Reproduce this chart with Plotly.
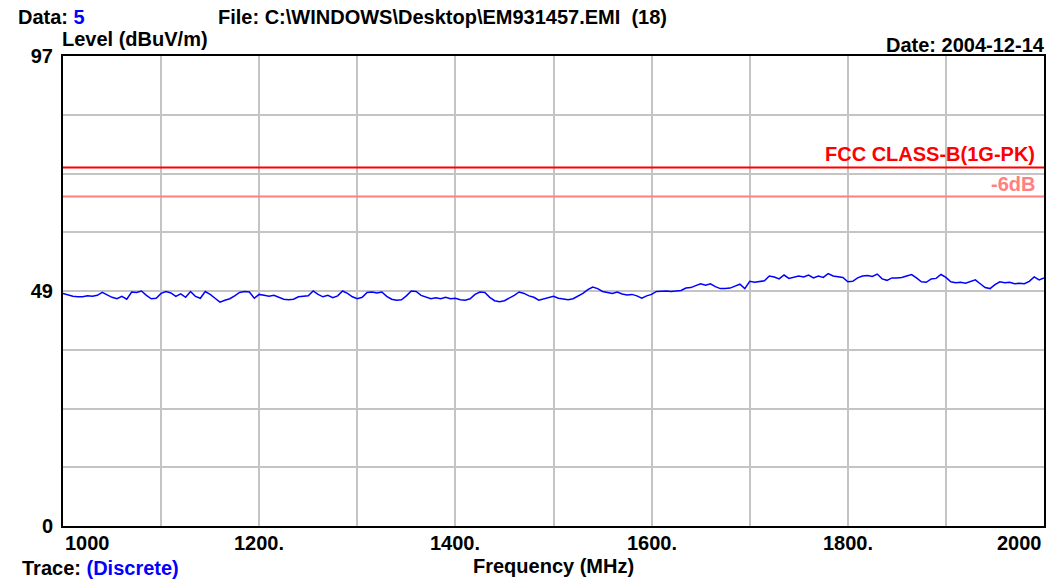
import plotly.graph_objects as go

# ---- data ----
freq_mhz = list(range(1000, 2001, 5))
level_dbuv = [
    48.0, 47.7, 47.4, 47.3, 47.3, 47.5, 47.4, 47.6, 48.2, 47.7,
    47.2, 46.9, 47.4, 46.8, 48.3, 48.2, 48.5, 47.6, 46.9, 47.0,
    48.0, 48.4, 48.1, 47.4, 47.9, 47.2, 48.4, 47.4, 47.0, 48.4,
    47.8, 47.0, 46.2, 46.6, 46.9, 47.5, 48.2, 48.4, 48.3, 47.0,
    47.8, 47.6, 47.4, 47.6, 47.2, 46.8, 46.7, 46.8, 47.3, 47.4,
    47.5,
    48.5, 47.8, 47.3, 47.6, 47.1, 47.5, 48.5, 48.0, 47.3, 46.9,
    47.2, 48.2, 48.3, 48.1, 48.3, 47.4, 46.8, 46.6, 46.7, 47.5,
    48.5, 48.4, 47.6, 47.2, 46.9, 47.1, 46.9, 47.2, 46.9, 47.0,
    46.7, 46.6, 46.9, 47.8, 48.3, 48.2, 47.2, 46.5, 46.3, 46.5,
    47.0, 47.6, 48.3, 48.0, 47.5, 47.2, 46.6, 46.9, 47.1, 47.4,
    47.0, 46.8, 46.7, 46.9, 47.4, 48.0, 48.8, 49.3, 49.0, 48.4,
    48.2, 48.0, 48.3, 47.9, 47.7, 47.8, 47.5, 47.0, 47.5, 47.8,
    48.4, 48.5, 48.5, 48.4, 48.5, 48.6, 49.1, 49.2, 49.6, 50.0,
    49.7, 50.0, 49.4, 49.0, 49.0, 49.1, 49.5, 49.9, 49.0, 50.5,
    50.3, 50.5, 50.6, 51.6, 51.4, 51.0, 51.8, 51.1, 51.3, 51.6,
    51.4, 51.8, 51.2, 51.6, 51.3, 52.1, 51.6, 51.5, 51.3, 50.4,
    50.5, 51.2, 51.6, 51.7, 51.5, 52.0, 51.0, 50.7, 51.2, 51.2,
    51.3, 51.6, 51.9, 51.2, 50.4, 50.3, 51.0, 51.1, 51.9, 51.3,
    50.4, 50.2, 50.3, 50.1, 50.5, 50.8, 50.0, 49.2, 49.0, 49.8,
    50.4, 50.2, 50.3, 50.0, 50.1, 50.0, 50.5, 51.4, 50.8, 51.2,
]
limit_fcc = 74.0
limit_margin = 68.0
limit_labels = ["FCC CLASS-B(1G-PK)", "-6dB"]
x_range = [1000, 2000]
y_range = [0, 97]
y_tick_vals = [0, 48.5, 97]
y_tick_text = ["0", "49", "97"]
x_tick_vals = [1000, 1200, 1400, 1600, 1800, 2000]
x_tick_text = ["1000", "1200.", "1400.", "1600.", "1800.", "2000"]

FONT = "Liberation Sans"
FS = 20

fig = go.Figure()
fig.add_trace(go.Scatter(x=x_range, y=[limit_fcc, limit_fcc], mode="lines",
                         line=dict(color="#ff0000", width=2), hoverinfo="skip"))
fig.add_trace(go.Scatter(x=x_range, y=[limit_margin, limit_margin], mode="lines",
                         line=dict(color="#ff8080", width=2), hoverinfo="skip"))
fig.add_trace(go.Scatter(x=freq_mhz, y=level_dbuv, mode="lines",
                         line=dict(color="#0000ff", width=1.5), hoverinfo="skip"))

grid_col = "#c4c4c4"
fig.update_xaxes(range=x_range, dtick=100, tick0=1000, showgrid=True, gridcolor=grid_col,
                 gridwidth=2, showticklabels=False, ticks="", zeroline=False,
                 showline=True, linecolor="black", linewidth=2, mirror=True)
fig.update_yaxes(range=y_range, tickvals=y_tick_vals, ticktext=y_tick_text,
                 showgrid=True, gridcolor=grid_col, gridwidth=2, ticks="",
                 minor=dict(tick0=0, dtick=97 / 8, showgrid=True, gridcolor=grid_col, gridwidth=2),
                 zeroline=False, showline=True, linecolor="black", linewidth=2, mirror=True,
                 tickfont=dict(family=FONT, size=FS, color="black", weight="bold"),
                 ticklabelstandoff=4)

ann = []
# x tick labels
for v, t in zip(x_tick_vals, x_tick_text):
    xa = "center"
    if v == x_range[0]:
        xa = "left"
    elif v == x_range[1]:
        xa = "right"
    ann.append(dict(x=v, y=0, xref="x", yref="paper", text=t, showarrow=False,
                    xanchor=xa, yanchor="top", yshift=-4,
                    font=dict(family=FONT, size=FS, color="black", weight="bold")))
# limit labels (right edge just inside the plot frame)
lbl_x = x_range[1] - 7
ann.append(dict(x=lbl_x, y=limit_fcc, xref="x", yref="y", text=limit_labels[0],
                showarrow=False, xanchor="right", yanchor="bottom", yshift=0,
                font=dict(family=FONT, size=FS, color="#ff0000", weight="bold")))
ann.append(dict(x=lbl_x, y=limit_margin, xref="x", yref="y", text=limit_labels[1],
                showarrow=False, xanchor="right", yanchor="bottom", yshift=0,
                font=dict(family=FONT, size=FS, color="#ff8080", weight="bold")))

W, H = 1064, 580
L, R, T, B = 63, 20, 56, 54
pw, ph = W - L - R, H - T - B

def px(xp):
    return (xp - L) / pw

def py(yp):
    return (H - B - yp) / ph

def txt(x, y, text, xa="left", color="black"):
    ann.append(dict(x=px(x), y=py(y), xref="paper", yref="paper", text=text, showarrow=False,
                    xanchor=xa, yanchor="middle",
                    font=dict(family=FONT, size=FS, color=color, weight="bold")))

txt(16, 17, "Data: <span style='color:#0000ff'>5</span>")
txt(216, 17, "File: C:\\WINDOWS\\Desktop\\EM931457.EMI  (18)")
txt(60, 39, "Level (dBuV/m)")
txt(1047, 45, "Date: 2004-12-14", xa="right")
txt(553, 566, "Frequency (MHz)", xa="center")
txt(20, 568, "Trace: <span style='color:#0000ff'>(Discrete)</span>")

fig.update_layout(width=W, height=H, margin=dict(l=L, r=R, t=T, b=B),
                  paper_bgcolor="white", plot_bgcolor="white", showlegend=False,
                  annotations=ann)
fig.write_html("out.html")
